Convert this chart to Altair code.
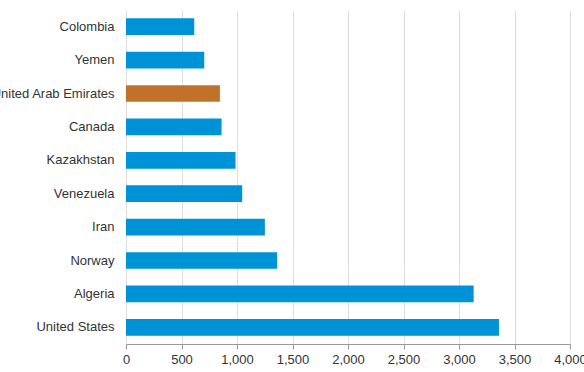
import altair as alt
import pandas as pd

countries = ["Colombia", "Yemen", "United Arab Emirates", "Canada", "Kazakhstan",
             "Venezuela", "Iran", "Norway", "Algeria", "United States"]
values = [615, 705, 846, 861, 987, 1047, 1251, 1362, 3132, 3360]
highlight = ["United Arab Emirates"]

df = pd.DataFrame({"country": countries, "value": values})
df["group"] = ["hi" if c in highlight else "base" for c in countries]

chart = alt.Chart(df).mark_bar().encode(
    y=alt.Y("country:N", sort=countries, title=None,
            scale=alt.Scale(paddingInner=0.5, paddingOuter=0.25),
            axis=alt.Axis(domain=False, ticks=False, labelFont="Liberation Sans",
                          labelFontSize=13, labelColor="#333333", labelPadding=12,
                          labelLimit=300)),
    x=alt.X("value:Q", title=None,
            scale=alt.Scale(domain=[0, 4000], nice=False),
            axis=alt.Axis(values=[0, 500, 1000, 1500, 2000, 2500, 3000, 3500, 4000],
                          format=",.0f", grid=True, gridColor="#dddddd", gridWidth=1,
                          domainColor="#999999", tickColor="#999999", tickSize=5,
                          labelFlush=False, labelOverlap=False,
                          labelFont="Liberation Sans", labelFontSize=13,
                          labelColor="#333333", labelPadding=4)),
    color=alt.Color("group:N", legend=None,
                    scale=alt.Scale(domain=["base", "hi"], range=["#0092D6", "#C0722B"])),
).properties(
    width=444, height=334,
    autosize=alt.AutoSizeParams(type="none"),
    padding={"left": 126, "top": 10, "right": 14, "bottom": 28},
).configure_view(stroke=None)

chart.save("out.html", embed_options={"renderer": "svg", "actions": False})
